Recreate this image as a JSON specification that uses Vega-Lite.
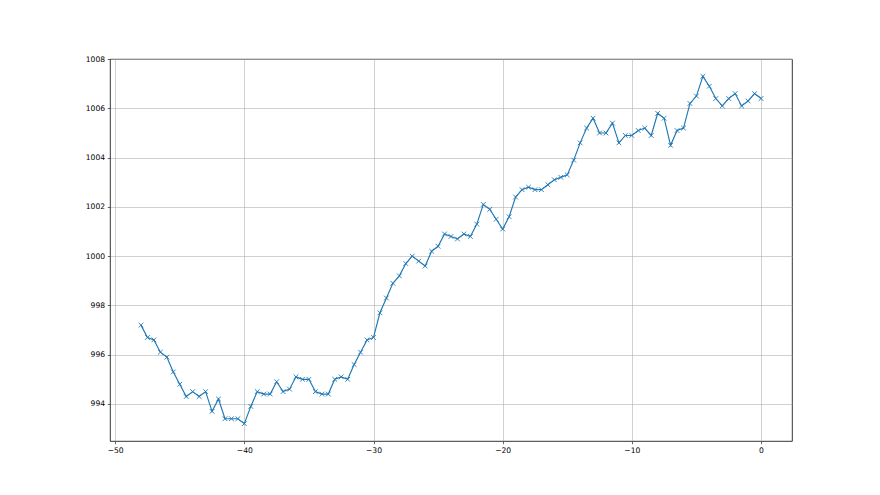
{
 "$schema": "https://vega.github.io/schema/vega-lite/v6.json",
 "width": 682, "height": 382,
 "autosize": {"type": "none"},
 "padding": {"left": 110, "top": 59, "right": 88, "bottom": 54},
 "background": "white",
 "config": {
  "view": {"stroke": "#000", "strokeWidth": 0.8},
  "axis": {"domain": false, "grid": true, "gridColor": "#b0b0b0", "gridWidth": 0.6, "tickColor": "#000", "tickSize": 2.7, "tickWidth": 0.6, "labelFont": "DejaVu Sans", "labelFontSize": 7.6, "labelColor": "#000", "labelPadding": 2.7, "title": null}
 },
 "data": {"values": [
  {"x": -48, "y": 997.2}, {"x": -47.5, "y": 996.7}, {"x": -47, "y": 996.6}, {"x": -46.5, "y": 996.1}, {"x": -46, "y": 995.9},
  {"x": -45.5, "y": 995.3}, {"x": -45, "y": 994.8}, {"x": -44.5, "y": 994.3}, {"x": -44, "y": 994.5}, {"x": -43.5, "y": 994.3},
  {"x": -43, "y": 994.5}, {"x": -42.5, "y": 993.7}, {"x": -42, "y": 994.2}, {"x": -41.5, "y": 993.4}, {"x": -41, "y": 993.4},
  {"x": -40.5, "y": 993.4}, {"x": -40, "y": 993.2}, {"x": -39.5, "y": 993.9}, {"x": -39, "y": 994.5}, {"x": -38.5, "y": 994.4},
  {"x": -38, "y": 994.4}, {"x": -37.5, "y": 994.9}, {"x": -37, "y": 994.5}, {"x": -36.5, "y": 994.6}, {"x": -36, "y": 995.1},
  {"x": -35.5, "y": 995.0}, {"x": -35, "y": 995.0}, {"x": -34.5, "y": 994.5}, {"x": -34, "y": 994.4}, {"x": -33.5, "y": 994.4},
  {"x": -33, "y": 995.0}, {"x": -32.5, "y": 995.1}, {"x": -32, "y": 995.0}, {"x": -31.5, "y": 995.6}, {"x": -31, "y": 996.1},
  {"x": -30.5, "y": 996.6}, {"x": -30, "y": 996.7}, {"x": -29.5, "y": 997.7}, {"x": -29, "y": 998.3}, {"x": -28.5, "y": 998.9},
  {"x": -28, "y": 999.2}, {"x": -27.5, "y": 999.7}, {"x": -27, "y": 1000.0}, {"x": -26.5, "y": 999.8}, {"x": -26, "y": 999.6},
  {"x": -25.5, "y": 1000.2}, {"x": -25, "y": 1000.4}, {"x": -24.5, "y": 1000.9}, {"x": -24, "y": 1000.8}, {"x": -23.5, "y": 1000.7},
  {"x": -23, "y": 1000.9}, {"x": -22.5, "y": 1000.8}, {"x": -22, "y": 1001.3}, {"x": -21.5, "y": 1002.1}, {"x": -21, "y": 1001.9},
  {"x": -20.5, "y": 1001.5}, {"x": -20, "y": 1001.1}, {"x": -19.5, "y": 1001.6}, {"x": -19, "y": 1002.4}, {"x": -18.5, "y": 1002.7},
  {"x": -18, "y": 1002.8}, {"x": -17.5, "y": 1002.7}, {"x": -17, "y": 1002.7}, {"x": -16.5, "y": 1002.9}, {"x": -16, "y": 1003.1},
  {"x": -15.5, "y": 1003.2}, {"x": -15, "y": 1003.3}, {"x": -14.5, "y": 1003.9}, {"x": -14, "y": 1004.6}, {"x": -13.5, "y": 1005.2},
  {"x": -13, "y": 1005.6}, {"x": -12.5, "y": 1005.0}, {"x": -12, "y": 1005.0}, {"x": -11.5, "y": 1005.4}, {"x": -11, "y": 1004.6},
  {"x": -10.5, "y": 1004.9}, {"x": -10, "y": 1004.9}, {"x": -9.5, "y": 1005.1}, {"x": -9, "y": 1005.2}, {"x": -8.5, "y": 1004.9},
  {"x": -8, "y": 1005.8}, {"x": -7.5, "y": 1005.6}, {"x": -7, "y": 1004.5}, {"x": -6.5, "y": 1005.1}, {"x": -6, "y": 1005.2},
  {"x": -5.5, "y": 1006.2}, {"x": -5, "y": 1006.5}, {"x": -4.5, "y": 1007.3}, {"x": -4, "y": 1006.9}, {"x": -3.5, "y": 1006.4},
  {"x": -3, "y": 1006.1}, {"x": -2.5, "y": 1006.4}, {"x": -2, "y": 1006.6}, {"x": -1.5, "y": 1006.1}, {"x": -1, "y": 1006.3},
  {"x": -0.5, "y": 1006.6}, {"x": 0, "y": 1006.4}
 ]},
 "encoding": {
  "x": {"field": "x", "type": "quantitative", "scale": {"domain": [-50.4, 2.4], "nice": false, "zero": false}, "axis": {"values": [-50, -40, -30, -20, -10, 0], "format": "d"}},
  "y": {"field": "y", "type": "quantitative", "scale": {"domain": [992.495, 1008.005], "nice": false, "zero": false}, "axis": {"values": [994, 996, 998, 1000, 1002, 1004, 1006, 1008], "format": "d"}}
 },
 "layer": [
  {"mark": {"type": "line", "color": "#1f77b4", "strokeWidth": 1.15}},
  {"mark": {"type": "point", "shape": "M-1,-1L1,1M-1,1L1,-1", "size": 22, "filled": false, "color": "#1f77b4", "strokeWidth": 0.9, "opacity": 1}}
 ]
}
